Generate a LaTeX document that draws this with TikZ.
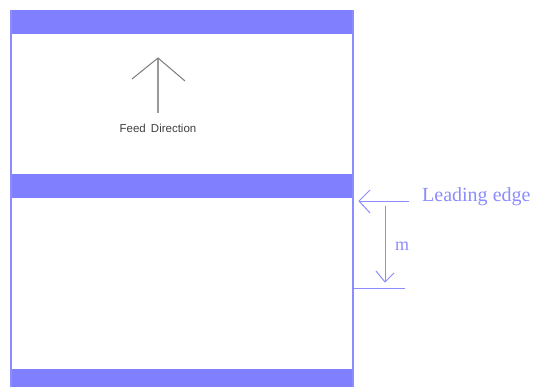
\documentclass[tikz,border=0pt]{standalone}
\usepackage{fontspec}
\setmainfont{Liberation Serif}
\newfontfamily\sansf{Liberation Sans}
\definecolor{band}{HTML}{8080FF}
\definecolor{edge}{HTML}{8C8CFF}
\definecolor{feedgray}{HTML}{9A9A9A}
\definecolor{feedtext}{HTML}{404040}
\begin{document}
\begin{tikzpicture}[x=1pt,y=-1pt,
  bandfill/.style={fill=band,draw=none},
  border/.style={draw=edge,line width=1.6pt},
  bluearrow/.style={draw=edge,line width=1pt},
  feedline/.style={draw=feedgray,line width=1.6pt},
  feedarm/.style={draw=feedgray!80!black,line width=1pt},
  lbl/.style={inner sep=0pt,text=edge}]
\useasboundingbox (0,0) rectangle (534,387);
\fill[white] (0,0) rectangle (534,387);
% bands
\path[bandfill] (10,10) rectangle (354,34);
\path[bandfill] (10,174) rectangle (354,198);
\path[bandfill] (10,369) rectangle (354,390);
% borders
\draw[border] (11,10) -- (11,390);
\draw[border] (353,10) -- (353,390);
% feed arrow
\coordinate (ftip) at (158,58);
\coordinate (fbase) at (158,113);
\draw[feedline] (fbase) -- (ftip);
\draw[feedarm] (132,79) -- (ftip) -- (185,81);
\node[inner sep=0pt,text=feedtext,font=\sansf\fontsize{11.5}{12}\selectfont] (feed) at (158,128) {Feed\, Direction};
% leading edge
\node[lbl,anchor=base west,font=\fontsize{20}{20}\selectfont] (lead) at (422,201) {Leading edge};
\coordinate (ltail) at (409,201);
\coordinate (ltip) at (359,201);
\draw[bluearrow] (ltail) -- (ltip);
\draw[bluearrow] (370,190) -- (ltip) -- (370,213);
% m dimension
\coordinate (mtop) at (385,206);
\coordinate (mbot) at (385,282);
\draw[bluearrow] (mtop) -- (mbot);
\draw[bluearrow] (376,271) -- (mbot) -- (394,273);
\node[lbl,font=\fontsize{18}{18}\selectfont] (m) at (402,246) {m};
\coordinate (mr) at (405,288);
\coordinate (ml) at (353,288);
\draw[bluearrow] (ml) -- (mr);
\end{tikzpicture}
\end{document}
